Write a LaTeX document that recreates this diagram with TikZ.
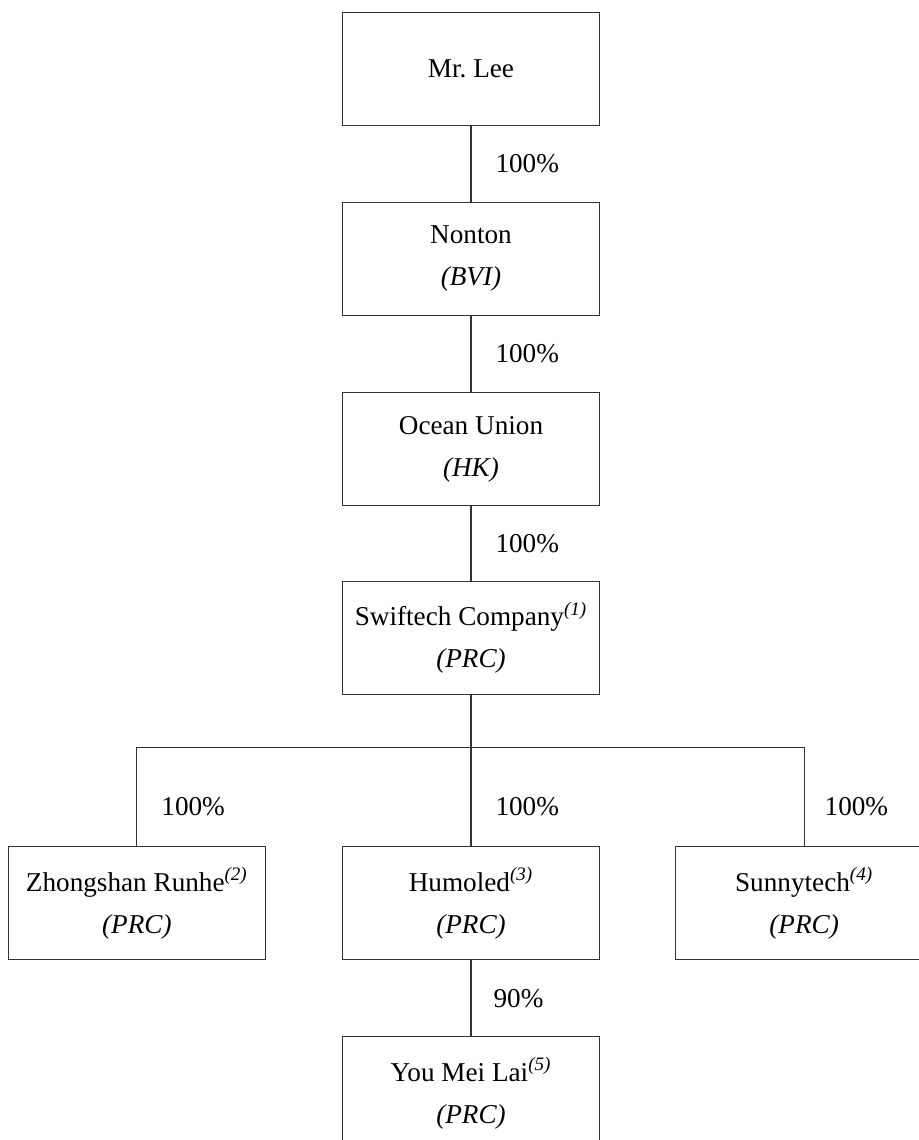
\documentclass[tikz,border=0pt]{standalone}
\usepackage{fontspec}
\setmainfont{Liberation Serif}
\usetikzlibrary{positioning}
\newcommand{\fnmark}[1]{\textsuperscript{\textit{(#1)}}}

\begin{document}
\begin{tikzpicture}[
		entity/.style={draw=black!80, line width=0.55pt, minimum width=128.5pt, minimum height=56.5pt, align=center, inner sep=0pt, font=\fontsize{13.6}{21}\selectfont},
		pct/.style={anchor=west, inner sep=0pt, xshift=12pt, font=\fontsize{13.6}{16}\selectfont},
		link/.style={draw=black!80, line width=0.55pt},
		node distance=38pt] %
		\clip (-235.5pt,34.5pt) rectangle (224pt,-535.5pt) ;
		% Chain
		\node[entity] (Lee) {Mr.~Lee} ;
		\node[entity, below=37.85pt of Lee] (Nonton) {Nonton\\\textit{(BVI)}} ;
		\node[entity, below=of Nonton] (Ocean) {Ocean Union\\\textit{(HK)}} ;
		\node[entity, below=37.5pt of Ocean] (Swiftech) {Swiftech Company\fnmark{1}\\\textit{(PRC)}} ;
		% Subsidiaries
		\node[entity, below=75.6pt of Swiftech] (Humoled) {Humoled\fnmark{3}\\\textit{(PRC)}} ;
		\node[entity, left=of Humoled] (Zhongshan) {Zhongshan Runhe\fnmark{2}\\\textit{(PRC)}} ;
		\node[entity, right=37.5pt of Humoled] (Sunnytech) {Sunnytech\fnmark{4}\\\textit{(PRC)}} ;
		\node[entity, below=of Humoled] (YouMei) {You Mei Lai\fnmark{5}\\\textit{(PRC)}} ;
		\coordinate[below=26.15pt of Swiftech.south] (Bar) ;
		% Holdings
		\draw[link] (Lee) -- node[pct] {100\%} (Nonton) ;
		\draw[link] (Nonton) -- node[pct] {100\%} (Ocean) ;
		\draw[link] (Ocean) -- node[pct] {100\%} (Swiftech) ;
		\draw[link] (Swiftech) -- (Bar) ;
		\draw[link] (Zhongshan.north |- Bar) -- (Sunnytech.north |- Bar) ;
		\draw[link] (Zhongshan.north) -- node[pct, pos=0.4] {100\%} (Zhongshan.north |- Bar) ;
		\draw[link] (Humoled.north) -- node[pct, pos=0.4] {100\%} (Bar) ;
		\draw[link] (Sunnytech.north) -- node[pct, pos=0.4, xshift=-2pt] {100\%} (Sunnytech.north |- Bar) ;
		\draw[link] (Humoled) -- node[pct, xshift=-1pt] {90\%} (YouMei) ;
	\end{tikzpicture}
\end{document}
